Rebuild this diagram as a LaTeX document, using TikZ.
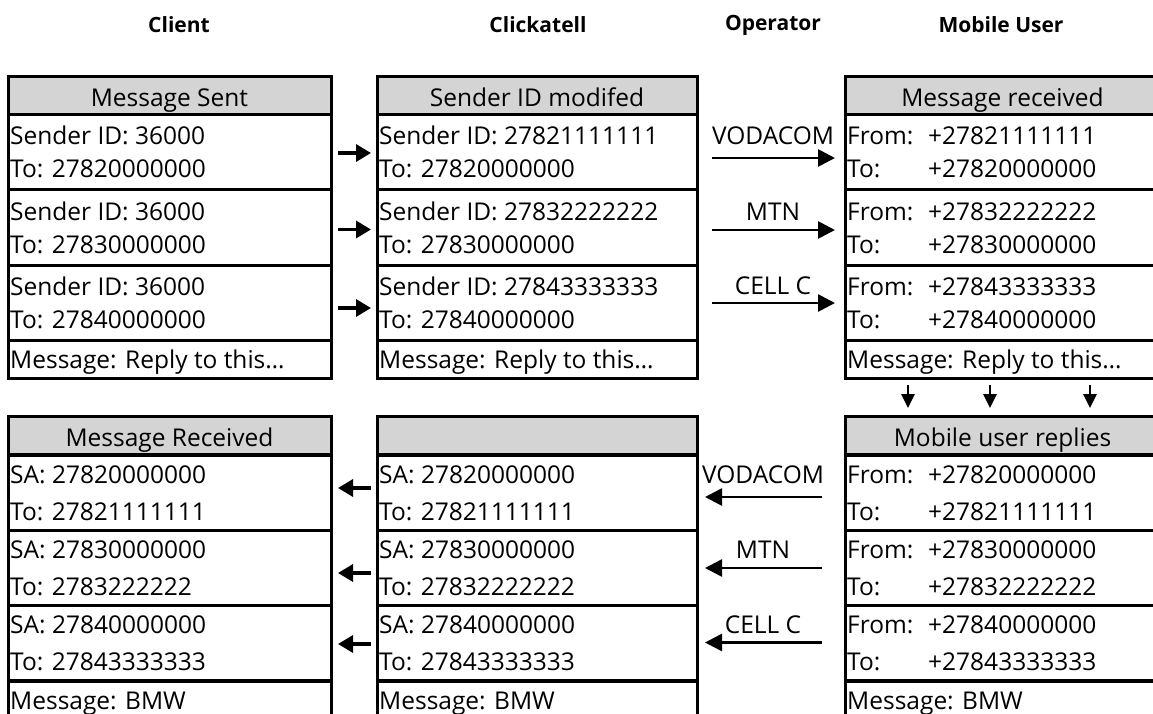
\documentclass[tikz,border=0pt]{standalone}
\usepackage{fontspec}
\setmainfont{Open Sans}
\usetikzlibrary{arrows.meta,calc}
\definecolor{hdgray}{RGB}{212,212,212}
\tikzset{
  cell/.style={draw=black, line width=3pt, fill=white, anchor=north west,
    inner sep=0pt, outer sep=0pt, minimum height=75pt},
  hcell/.style={cell, fill=hdgray, minimum height=38pt},
  mcell/.style={cell, minimum height=38pt},
  txt/.style={anchor=base west, inner sep=0pt, font=\fontsize{24.5}{28}\selectfont},
  htxt/.style={anchor=base, inner sep=0pt, font=\fontsize{24.5}{28}\selectfont},
  coltitle/.style={inner sep=0pt, font=\fontsize{21}{24}\selectfont\bfseries},
  oplabel/.style={anchor=base, inner sep=0pt, font=\fontsize{24.5}{28}\selectfont},
  shortarr/.style={line width=3.3pt, -{Triangle[length=15pt,width=17pt]}},
  oparr/.style={line width=2.7pt, -{Triangle[length=17pt,width=17pt]}},
  downarr/.style={line width=2.7pt, -{Triangle[length=14pt,width=13pt]}},
}
\newcommand\mkhead[5]{%
  \node[hcell, minimum width=#4pt] (#1) at (#2,#3) {};
  \node[htxt] (#1-t) at ($(#1.north)+(0,30)$) {#5};}
% #7, #8: baseline offsets of the two lines
\newcommand\mkrow[8]{%
  \node[cell, minimum width=#4pt] (#1) at (#2,#3) {};
  \node[txt] (#1-a) at ($(#1.north west)+(2,#7)$) {#5};
  \node[txt] (#1-b) at ($(#1.north west)+(2,#8)$) {#6};}
\newcommand\mkmsg[5]{%
  \node[mcell, minimum width=#4pt] (#1) at (#2,#3) {};
  \node[txt] (#1-t) at ($(#1.north west)+(2,28)$) {#5};}
\newcommand\tb[1]{\makebox[81pt][l]{#1}}
\begin{document}
\begin{tikzpicture}[x=1pt,y=-1pt]
\path[use as bounding box] (0,0) rectangle (1153,714);
\clip (0,0) rectangle (1153,714);
% column titles
\node[coltitle] (t-client) at (179,25) {Client};
\node[coltitle] (t-click) at (538,25) {Clickatell};
\node[coltitle] (t-oper) at (773,25) {Operator};
\node[coltitle] (t-mob) at (1001,25) {Mobile User};
% top left table
\mkhead{ah}{8}{77}{323}{Message Sent}
\mkrow{a1}{8}{115}{323}{Sender ID: 36000}{To: 27820000000}{30}{63}
\mkrow{a2}{8}{190}{323}{Sender ID: 36000}{To: 27830000000}{30}{63}
\mkrow{a3}{8}{265}{323}{Sender ID: 36000}{To: 27840000000}{30}{63}
\mkmsg{am}{8}{340}{323}{Message: Reply to this…}
% top middle table
\mkhead{bh}{377}{77}{320}{Sender ID modifed}
\mkrow{b1}{377}{115}{320}{Sender ID: 27821111111}{To: 27820000000}{30}{63}
\mkrow{b2}{377}{190}{320}{Sender ID: 27832222222}{To: 27830000000}{30}{63}
\mkrow{b3}{377}{265}{320}{Sender ID: 27843333333}{To: 27840000000}{30}{63}
\mkmsg{bm}{377}{340}{320}{Message: Reply to this…}
% top right table
\mkhead{ch}{845}{77}{315}{Message received}
\mkrow{c1}{845}{115}{315}{\tb{From:}+27821111111}{\tb{To:}+27820000000}{30}{63}
\mkrow{c2}{845}{190}{315}{\tb{From:}+27832222222}{\tb{To:}+27830000000}{30}{63}
\mkrow{c3}{845}{265}{315}{\tb{From:}+27843333333}{\tb{To:}+27840000000}{30}{63}
\mkmsg{cm}{845}{340}{315}{Message: Reply to this…}
% bottom left table
\mkhead{ph}{8}{416}{323}{Message Received}
\mkrow{p1}{8}{455}{323}{SA: 27820000000}{To: 27821111111}{28}{65}
\mkrow{p2}{8}{530}{323}{SA: 27830000000}{To: 2783222222}{28}{65}
\mkrow{p3}{8}{605}{323}{SA: 27840000000}{To: 27843333333}{28}{65}
\mkmsg{pm}{8}{681}{323}{Message: BMW}
% bottom middle table
\mkhead{qh}{377}{416}{320}{}
\mkrow{q1}{377}{455}{320}{SA: 27820000000}{To: 27821111111}{28}{65}
\mkrow{q2}{377}{530}{320}{SA: 27830000000}{To: 27832222222}{28}{65}
\mkrow{q3}{377}{605}{320}{SA: 27840000000}{To: 27843333333}{28}{65}
\mkmsg{qm}{377}{681}{320}{Message: BMW}
% bottom right table
\mkhead{rh}{845}{416}{315}{Mobile user replies}
\mkrow{r1}{845}{455}{315}{\tb{From:}+27820000000}{\tb{To:}+27821111111}{28}{65}
\mkrow{r2}{845}{530}{315}{\tb{From:}+27830000000}{\tb{To:}+27832222222}{28}{65}
\mkrow{r3}{845}{605}{315}{\tb{From:}+27840000000}{\tb{To:}+27843333333}{28}{65}
\mkmsg{rm}{845}{681}{315}{Message: BMW}
% client -> clickatell
\draw[shortarr, shorten <=7pt, shorten >=6pt] ([yshift=-0.5pt]a1.east) -- ([yshift=-0.5pt]b1.west);
\draw[shortarr, shorten <=7pt, shorten >=6pt] ([yshift=-2pt]a2.east) -- ([yshift=-2pt]b2.west);
\draw[shortarr, shorten <=7pt, shorten >=6pt] ([yshift=-5.5pt]a3.east) -- ([yshift=-5.5pt]b3.west);
% clickatell -> mobile user via operators
\draw[oparr, shorten <=15pt, shorten >=10pt] ([yshift=-5.5pt]b1.east) -- ([yshift=-5.5pt]c1.west);
\draw[oparr, shorten <=15pt, shorten >=10pt] ([yshift=-2.5pt]b2.east) -- ([yshift=-2.5pt]c2.west);
\draw[oparr, shorten <=15pt, shorten >=10pt] ([yshift=-0.5pt]b3.east) -- ([yshift=-0.5pt]c3.west);
\node[oplabel] (lt1) at (773,145) {VODACOM};
\node[oplabel] (lt2) at (773,220) {MTN};
\node[oplabel] (lt3) at (773,294) {CELL C};
% mobile user replies (down arrows)
\draw[downarr, shorten <=7pt, shorten >=8pt] ([xshift=63pt]cm.south west) -- ([xshift=63pt]rh.north west);
\draw[downarr, shorten <=7pt, shorten >=8pt] ([xshift=145pt]cm.south west) -- ([xshift=145pt]rh.north west);
\draw[downarr, shorten <=7pt, shorten >=8pt] ([xshift=245pt]cm.south west) -- ([xshift=245pt]rh.north west);
% mobile user -> clickatell via operators
\draw[oparr, shorten <=23pt, shorten >=8pt] ([yshift=-4.5pt]r1.west) -- ([yshift=-4.5pt]q1.east);
\draw[oparr, shorten <=23pt, shorten >=8pt] ([yshift=-0.5pt]r2.west) -- ([yshift=-0.5pt]q2.east);
\draw[oparr, shorten <=23pt, shorten >=8pt] (r3.west) -- (q3.east);
\node[oplabel] (lb1) at (763,483) {VODACOM};
\node[oplabel] (lb2) at (763,558) {MTN};
\node[oplabel] (lb3) at (763,633) {CELL C};
% clickatell -> client
\draw[shortarr, shorten <=6.5pt, shorten >=7pt] ([yshift=4.5pt]q1.west) -- ([yshift=4.5pt]p1.east);
\draw[shortarr, shorten <=6.5pt, shorten >=7pt] ([yshift=-5.5pt]q2.west) -- ([yshift=-5.5pt]p2.east);
\draw[shortarr, shorten <=6.5pt, shorten >=7pt] ([yshift=-1.5pt]q3.west) -- ([yshift=-1.5pt]p3.east);
\end{tikzpicture}
\end{document}
